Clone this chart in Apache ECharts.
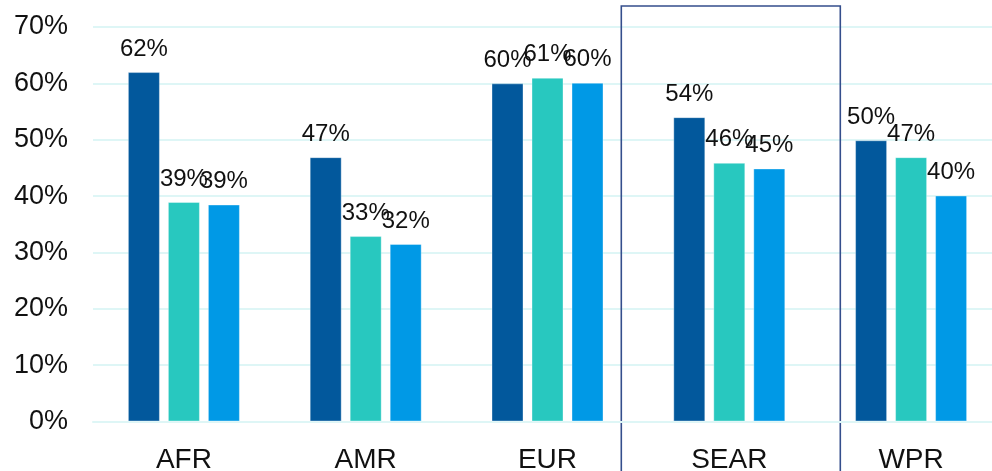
<!DOCTYPE html>
<html><head><meta charset="utf-8">
<script src="https://cdn.jsdelivr.net/npm/echarts@6/dist/echarts.min.js"></script>
<style>html,body{margin:0;padding:0;background:#fff}#c{width:992px;height:471px}</style>
</head><body><div id="c"></div>
<script>
const categories = ['AFR', 'AMR', 'EUR', 'SEAR', 'WPR'];
const seriesA = [62.0, 46.9, 60.0, 54.0, 49.9];
const seriesB = [38.95, 32.9, 61.0, 45.9, 46.9];
const seriesC = [38.5, 31.5, 60.1, 44.9, 40.1];
const yTicks = [0, 10, 20, 30, 40, 50, 60, 70];
const highlighted = 'SEAR';

const colors = ['#02589C', '#28C8BF', '#0099E6'];
const FONT = 'Liberation Sans, Arial, sans-serif';
const chart = echarts.init(document.getElementById('c'));
function mk(data, i) {
  return {
    type: 'bar', data: data, barWidth: 32, barGap: '25%',
    itemStyle: { color: colors[i], borderColor: 'rgba(255,255,255,0.35)', borderWidth: 1 },
    label: { show: true, position: 'top', distance: 11, formatter: p => Math.round(p.value) + '%',
      fontFamily: FONT, fontSize: 24, color: '#111' }
  };
}
chart.setOption({
  animation: false,
  grid: { left: 93, top: 27, width: 909, bottom: 49.5, outerBoundsMode: 'none', containLabel: false },
  xAxis: { type: 'category', data: categories,
    axisLine: { lineStyle: { color: '#DEF6F6', width: 2 } }, axisTick: { show: false },
    axisLabel: { fontFamily: FONT, fontSize: 28, color: '#111', margin: 25 } },
  yAxis: { type: 'value', min: 0, max: 70, interval: 10,
    axisLabel: { formatter: v => yTicks.includes(v) ? v + '%' : '', fontFamily: FONT, fontSize: 27, color: '#111', margin: 25 },
    splitLine: { lineStyle: { color: '#DEF6F6', width: 2 } }, axisLine: { show: false } },
  series: [mk(seriesA, 0), mk(seriesB, 1), mk(seriesC, 2)]
});
const cx = chart.convertToPixel({ xAxisIndex: 0 }, highlighted);
const y70 = chart.convertToPixel({ yAxisIndex: 0 }, 70);
chart.setOption({ graphic: [{ type: 'rect', shape: { x: cx - 108, y: y70 - 21, width: 219, height: 500 },
  style: { fill: 'none', stroke: '#344E8C', lineWidth: 1.6 } }] });
</script></body></html>
